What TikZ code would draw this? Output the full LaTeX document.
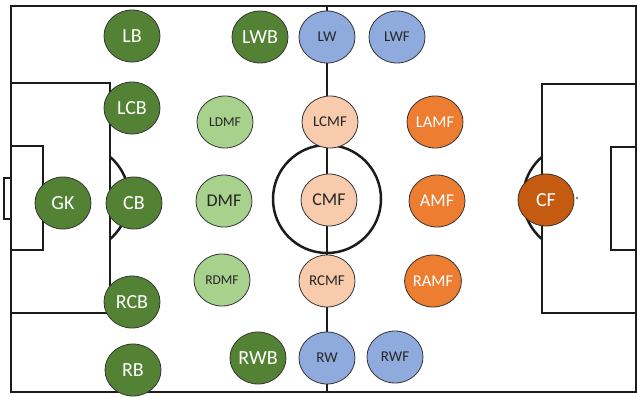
\documentclass[tikz,border=0pt]{standalone}
\usepackage{fontspec}
\setmainfont{Carlito}
\usetikzlibrary{shapes.geometric}
\definecolor{dkgreen}{HTML}{548235}
\definecolor{ltgreen}{HTML}{A9D18E}
\definecolor{pblue}{HTML}{8FAADC}
\definecolor{peach}{HTML}{F8CBAD}
\definecolor{porange}{HTML}{ED7D31}
\definecolor{cforange}{HTML}{C55A11}
\definecolor{lineclr}{HTML}{1C1C1C}
\definecolor{txtdark}{HTML}{262626}
\tikzset{
  field/.style={draw=lineclr, line width=2.5pt},
  thinfield/.style={draw=lineclr, line width=1.5pt},
  player/.style={ellipse, draw=black!80, line width=0.8pt, minimum width=56pt, minimum height=52pt, inner sep=0pt},
  big/.style={font=\fontsize{20}{24}\selectfont},
  mid/.style={font=\fontsize{18}{22}\selectfont},
  amid/.style={font=\fontsize{16.5}{20}\selectfont},
  small/.style={font=\fontsize{15}{18}\selectfont},
  tiny/.style={font=\fontsize{13.5}{16}\selectfont},
  dg/.style={player, fill=dkgreen, text=white},
  lg/.style={player, fill=ltgreen, text=txtdark},
  bl/.style={player, fill=pblue, text=txtdark},
  pc/.style={player, fill=peach, text=txtdark},
  og/.style={player, fill=porange, text=white},
  cfs/.style={player, fill=cforange, text=white}
}
\begin{document}
\begin{tikzpicture}[x=1pt, y=-1pt]
\useasboundingbox (0,0) rectangle (637,398);
\fill[white] (0,0) rectangle (637,398);
% pitch
\draw[field] (11,6) rectangle (636,392);
\draw[field] (327,6) -- (327,392);
\draw[field] (327,199) circle[radius=54];
% left side
\draw[field] (11,83) rectangle (110,313);
\draw[field] (11,146) rectangle (43,250);
\draw[thinfield] (11,178) -- (4,178) -- (4,219) -- (11,219);
\draw[field] (75,198) ++(-49.6:54) arc[start angle=-49.6, end angle=49.6, radius=54];
% right side
\draw[field] (636,84) -- (542,84) -- (542,313) -- (636,313);
\draw[field] (636,147) -- (611,147) -- (611,250) -- (636,250);
\draw[field] (577,198) ++(130.4:54) arc[start angle=130.4, end angle=229.6, radius=54];
\fill[gray] (577,198) circle[radius=1.3];
% players
\node[dg,big] (GK) at (63,203) {GK};
\node[dg,big] (LB) at (132,36) {LB};
\node[dg,big] (LCB) at (132,108) {LCB};
\node[dg,big] (CB) at (134,203) {CB};
\node[dg,big] (RCB) at (132,302) {RCB};
\node[dg,big] (RB) at (133,370) {RB};
\node[dg,big] (LWB) at (260,37) {LWB};
\node[dg,big] (RWB) at (258,358) {RWB};
\node[lg,tiny] (LDMF) at (225,122) {LDMF};
\node[lg,mid] (DMF) at (224,201) {DMF};
\node[lg,tiny] (RDMF) at (222,280) {RDMF};
\node[bl,small] (LW) at (327,37) {LW};
\node[bl,small] (LWF) at (397,37) {LWF};
\node[bl,small] (RW) at (327,358) {RW};
\node[bl,small] (RWF) at (395,357) {RWF};
\node[pc,small] (LCMF) at (330,122) {LCMF};
\node[pc,mid] (CMF) at (329,200) {CMF};
\node[pc,small] (RCMF) at (327,281) {RCMF};
\node[og,amid] (LAMF) at (435,122) {LAMF};
\node[og,mid] (AMF) at (437,201) {AMF};
\node[og,amid] (RAMF) at (433,281) {RAMF};
\node[cfs,big] (CF) at (546,200) {CF};
\end{tikzpicture}
\end{document}
